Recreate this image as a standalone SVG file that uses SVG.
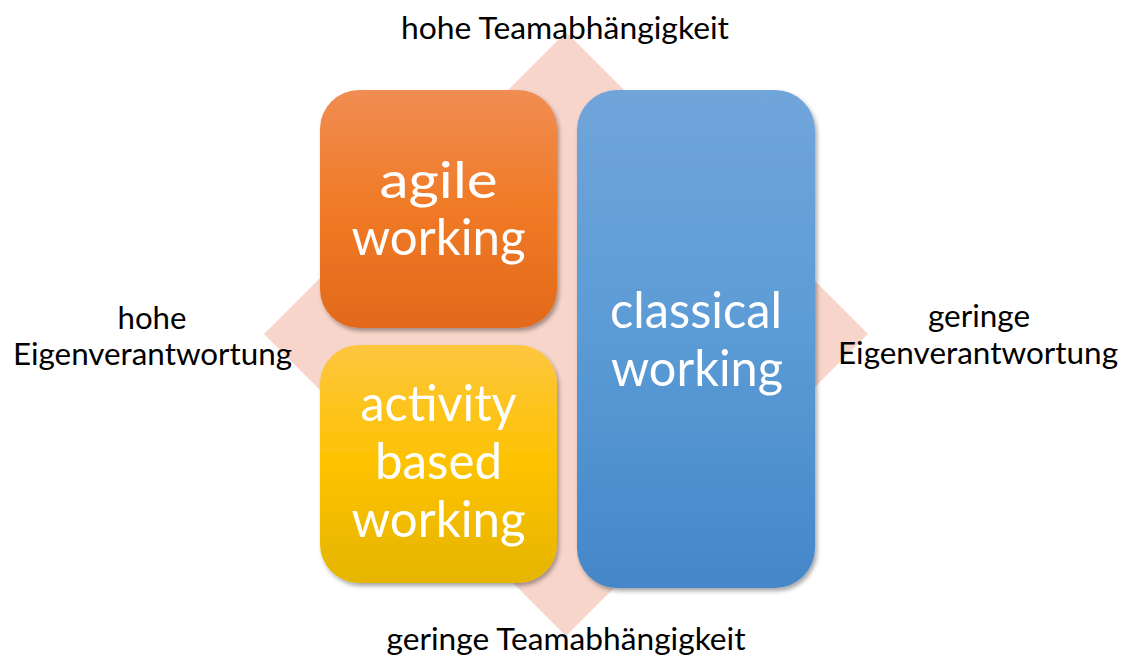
<svg xmlns="http://www.w3.org/2000/svg" width="1126" height="662" viewBox="0 0 1126 662">
  <style>
    .axis { font-family: Lato, "Open Sans", "Liberation Sans", sans-serif; font-size: 31px; fill: #000; text-anchor: middle; }
    .box-label { font-family: Lato, "Open Sans", "Liberation Sans", sans-serif; font-size: 50px; fill: #fff; text-anchor: middle; }
  </style>
  <defs>
    <linearGradient id="gOrange" x1="0" y1="0" x2="0" y2="1">
      <stop offset="0" stop-color="#F08D52"/>
      <stop offset="0.5" stop-color="#F07A26"/>
      <stop offset="1" stop-color="#E2691A"/>
    </linearGradient>
    <linearGradient id="gYellow" x1="0" y1="0" x2="0" y2="1">
      <stop offset="0" stop-color="#FDC63F"/>
      <stop offset="0.5" stop-color="#FDC200"/>
      <stop offset="1" stop-color="#E5B500"/>
    </linearGradient>
    <linearGradient id="gBlue" x1="0" y1="0" x2="0" y2="1">
      <stop offset="0" stop-color="#70A5DA"/>
      <stop offset="0.5" stop-color="#5B9BD5"/>
      <stop offset="1" stop-color="#4487C9"/>
    </linearGradient>
    <filter id="shadow" x="-10%" y="-10%" width="120%" height="120%">
      <feDropShadow dx="2" dy="3" stdDeviation="2" flood-color="#000" flood-opacity="0.35"/>
    </filter>
  </defs>

  <!-- background diamond -->
  <polygon id="diamond" points="566,32 868,334 566,636 264,334" fill="#F7D5CA"/>

  <!-- axis labels -->
  <g id="axis-top">
    <text class="axis" x="565" y="39" textLength="328" lengthAdjust="spacingAndGlyphs">hohe Teamabhängigkeit</text>
  </g>
  <g id="axis-bottom">
    <text class="axis" x="566" y="650" textLength="359" lengthAdjust="spacingAndGlyphs">geringe Teamabhängigkeit</text>
  </g>
  <g id="axis-left">
    <text class="axis" x="152" y="329" textLength="69" lengthAdjust="spacingAndGlyphs">hohe</text>
    <text class="axis" x="152.5" y="365" textLength="279" lengthAdjust="spacingAndGlyphs">Eigenverantwortung</text>
  </g>
  <g id="axis-right">
    <text class="axis" x="979" y="327" textLength="102" lengthAdjust="spacingAndGlyphs">geringe</text>
    <text class="axis" x="978" y="364" textLength="280" lengthAdjust="spacingAndGlyphs">Eigenverantwortung</text>
  </g>

  <!-- quadrants -->
  <g id="agile-working">
    <rect x="320" y="90" width="237" height="238" rx="39" ry="39" fill="url(#gOrange)" filter="url(#shadow)"/>
    <text class="box-label" x="438.5" y="198" textLength="118" lengthAdjust="spacingAndGlyphs">agile</text>
    <text class="box-label" x="438.5" y="255" textLength="174" lengthAdjust="spacingAndGlyphs">working</text>
  </g>
  <g id="activity-based-working">
    <rect x="320" y="345" width="237" height="238" rx="39" ry="39" fill="url(#gYellow)" filter="url(#shadow)"/>
    <text class="box-label" x="438.5" y="421" textLength="156" lengthAdjust="spacingAndGlyphs">activity</text>
    <text class="box-label" x="438.5" y="479" textLength="127" lengthAdjust="spacingAndGlyphs">based</text>
    <text class="box-label" x="438.5" y="537" textLength="174" lengthAdjust="spacingAndGlyphs">working</text>
  </g>
  <g id="classical-working">
    <rect x="577" y="90" width="238" height="498" rx="40" ry="40" fill="url(#gBlue)" filter="url(#shadow)"/>
    <text class="box-label" x="696" y="328" textLength="172" lengthAdjust="spacingAndGlyphs">classical</text>
    <text class="box-label" x="697" y="386" textLength="172" lengthAdjust="spacingAndGlyphs">working</text>
  </g>

  <!-- no connectors in this figure -->
  <g id="connectors"/>
</svg>
